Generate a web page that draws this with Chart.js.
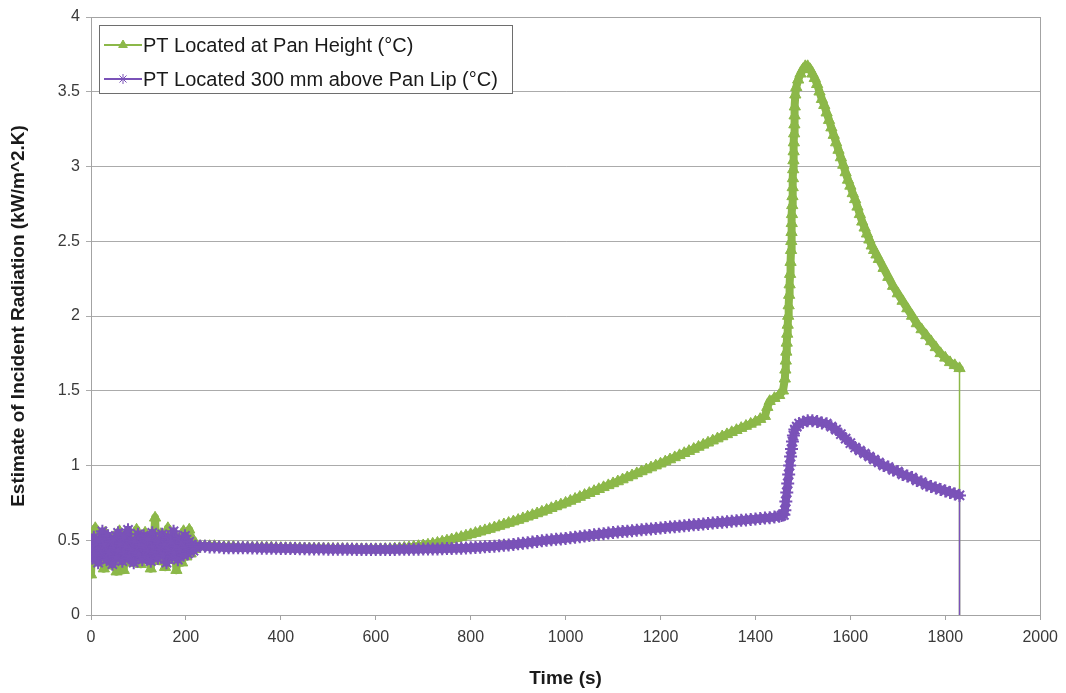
<!DOCTYPE html>
<html>
<head>
<meta charset="utf-8">
<title>Estimate of Incident Radiation</title>
<script src="https://cdn.jsdelivr.net/npm/chart.js@4.4.1/dist/chart.umd.min.js"></script>
<style>
  html, body { margin: 0; padding: 0; background: #fff; }
  #wrap { position: relative; width: 1066px; height: 693px; }
</style>
</head>
<body>
<div id="wrap"><canvas id="radChart"></canvas></div>
<script>
// series labels
const seriesLabels = ['PT Located at Pan Height (\u00B0C)', 'PT Located 300 mm above Pan Lip (\u00B0C)'];

// axis ticks
const xTicks = [0, 200, 400, 600, 800, 1000, 1200, 1400, 1600, 1800, 2000];
const yTicks = [0, 0.5, 1, 1.5, 2, 2.5, 3, 3.5, 4];

// PT at pan height - time (s)
const greenTime = [
  0,3,6,9,12,15,18,21,24,27,30,33,36,39,42,45,48,51,54,57,60,63,66,69,72,75,78,81,84,87,
  90,93,96,99,102,105,108,111,114,117,120,123,126,129,132,135,138,141,144,147,150,153,156,159,162,165,168,171,174,177,
  180,183,186,189,192,195,198,201,204,207,210,213,216,219,
  230,240,250,260,270,280,290,300,310,320,330,340,350,360,370,380,390,400,410,420,
  430,440,450,460,470,480,490,500,510,520,530,540,550,560,570,580,590,600,610,620,
  630,640,650,660,670,680,690,700,710,720,730,740,750,760,770,780,790,800,810,820,
  830,840,850,860,870,880,890,900,910,920,930,940,950,960,970,980,990,1000,1010,1020,
  1030,1040,1050,1060,1070,1080,1090,1100,1110,1120,1130,1140,1150,1160,1170,1180,1190,1200,1210,1220,
  1230,1240,1250,1260,1270,1280,1290,1300,1310,1320,1330,1340,1350,1360,1370,1380,1390,1400,1410,1420,
  1425,1430,1440,1450,1458,1462,1463,1464,1465,1466,1467,1468,1469,1470,1471,1472,1473,1474,1475,1475.5,
  1476,1476.5,1477,1477.5,1478,1478.5,1479,1479.5,1480,1480.5,1481,1481.5,1482,1482.5,1483,1484,1486,1490,1495,1500,
  1505,1510,1515,1520,1525,1530,1535,1540,1545,1550,1555,1560,1565,1570,1575,1580,1585,1590,1595,1600,
  1605,1610,1615,1620,1625,1630,1635,1640,1645,1650,1655,1660,1670,1680,1690,1700,1710,1720,1730,1740,
  1750,1760,1770,1780,1790,1800,1810,1820,1830,1830
];
// PT at pan height - estimate (kW/m^2.K)
const greenVal = [
  0.27,0.52,0.40,0.58,0.44,0.36,0.50,0.41,0.47,0.31,0.55,0.43,0.38,0.49,0.46,0.33,0.52,0.42,0.29,0.48,
  0.56,0.37,0.45,0.30,0.51,0.44,0.39,0.53,0.47,0.35,0.50,0.42,0.57,0.40,0.46,0.34,0.49,0.43,0.55,0.38,
  0.48,0.41,0.31,0.52,0.45,0.65,0.39,0.47,0.36,0.54,0.43,0.50,0.32,0.46,0.58,0.40,0.48,0.37,0.53,0.44,
  0.30,0.51,0.42,0.47,0.35,0.56,0.45,0.39,0.49,0.57,0.41,0.46,0.50,0.44,
  0.46,0.46,0.46,0.46,0.455,0.455,0.455,0.455,0.45,0.45,0.45,0.45,0.45,0.45,0.45,0.45,0.448,0.448,0.447,0.447,
  0.446,0.446,0.445,0.445,0.444,0.444,0.443,0.443,0.442,0.442,0.441,0.441,0.44,0.44,0.44,0.44,0.44,0.44,0.44,0.441,
  0.442,0.444,0.446,0.449,0.452,0.456,0.46,0.465,0.47,0.476,0.482,0.49,0.497,0.505,0.513,0.521,0.53,0.539,0.548,0.557,
  0.566,0.575,0.585,0.595,0.605,0.615,0.625,0.635,0.646,0.657,0.668,0.679,0.69,0.702,0.714,0.726,0.738,0.75,0.763,0.776,
  0.789,0.802,0.815,0.828,0.841,0.854,0.867,0.88,0.893,0.906,0.92,0.933,0.947,0.96,0.973,0.986,0.999,1.012,1.026,1.04,
  1.054,1.068,1.082,1.096,1.11,1.124,1.138,1.152,1.166,1.18,1.194,1.208,1.222,1.236,1.25,1.264,1.278,1.292,1.31,1.33,
  1.39,1.43,1.45,1.47,1.50,1.58,1.64,1.70,1.76,1.82,1.88,1.94,2.00,2.07,2.14,2.21,2.28,2.36,2.44,2.50,
  2.56,2.62,2.68,2.74,2.80,2.86,2.92,2.98,3.04,3.10,3.16,3.22,3.28,3.34,3.40,3.48,3.53,3.58,3.62,3.65,
  3.67,3.67,3.65,3.62,3.59,3.55,3.50,3.45,3.41,3.36,3.31,3.26,3.21,3.16,3.11,3.06,3.01,2.96,2.91,2.87,
  2.82,2.78,2.73,2.68,2.63,2.59,2.55,2.51,2.47,2.44,2.41,2.38,2.32,2.26,2.20,2.15,2.10,2.05,2.00,1.95,
  1.91,1.87,1.83,1.79,1.75,1.72,1.69,1.67,1.65,0
];

// PT 300 mm above pan lip - time (s)
const purpleTime = [
  0,3,6,9,12,15,18,21,24,27,30,33,36,39,42,45,48,51,54,57,60,63,66,69,72,75,78,81,84,87,
  90,93,96,99,102,105,108,111,114,117,120,123,126,129,132,135,138,141,144,147,150,153,156,159,162,165,168,171,174,177,
  180,183,186,189,192,195,198,201,204,207,210,213,216,219,
  230,240,250,260,270,280,290,300,310,320,330,340,350,360,370,380,390,400,410,420,
  430,440,450,460,470,480,490,500,510,520,530,540,550,560,570,580,590,600,610,620,
  630,640,650,660,670,680,690,700,710,720,730,740,750,760,770,780,790,800,810,820,
  830,840,850,860,870,880,890,900,910,920,930,940,950,960,970,980,990,1000,1010,1020,
  1030,1040,1050,1060,1070,1080,1090,1100,1110,1120,1130,1140,1150,1160,1170,1180,1190,1200,1210,1220,
  1230,1240,1250,1260,1270,1280,1290,1300,1310,1320,1330,1340,1350,1360,1370,1380,1390,1400,1410,1420,
  1430,1440,1450,1455,1460,1462,1464,1466,1468,1470,1472,1474,1476,1478,1480,1483,1487,1492,1500,1510,
  1520,1530,1540,1550,1560,1570,1580,1590,1600,1610,1620,1630,1640,1650,1660,1670,1680,1690,1700,1710,
  1720,1730,1740,1750,1760,1770,1780,1790,1800,1810,1820,1830,1830
];
// PT 300 mm above pan lip - estimate (kW/m^2.K)
const purpleVal = [
  0.44,0.38,0.52,0.41,0.48,0.35,0.50,0.43,0.56,0.40,0.47,0.37,0.53,0.42,0.49,0.34,0.51,0.45,0.39,0.55,
  0.43,0.48,0.36,0.52,0.41,0.46,0.57,0.38,0.50,0.44,0.35,0.49,0.42,0.54,0.40,0.47,0.37,0.53,0.45,0.39,
  0.51,0.43,0.36,0.55,0.46,0.41,0.50,0.38,0.48,0.44,0.54,0.40,0.47,0.35,0.52,0.43,0.49,0.39,0.56,0.42,
  0.46,0.37,0.51,0.44,0.48,0.40,0.53,0.45,0.41,0.49,0.44,0.47,0.43,0.46,
  0.46,0.46,0.455,0.455,0.455,0.45,0.45,0.45,0.45,0.45,0.45,0.448,0.448,0.447,0.447,0.446,0.446,0.445,0.445,0.444,
  0.444,0.443,0.443,0.442,0.442,0.441,0.441,0.44,0.44,0.44,0.44,0.439,0.439,0.438,0.438,0.438,0.438,0.438,0.438,0.438,
  0.438,0.438,0.439,0.439,0.44,0.44,0.44,0.441,0.441,0.442,0.442,0.443,0.444,0.445,0.446,0.447,0.448,0.45,0.452,0.454,
  0.456,0.458,0.46,0.463,0.466,0.469,0.472,0.476,0.48,0.484,0.488,0.492,0.496,0.50,0.503,0.506,0.509,0.512,0.516,0.52,
  0.524,0.528,0.532,0.536,0.54,0.544,0.548,0.552,0.555,0.558,0.561,0.564,0.567,0.57,0.573,0.576,0.579,0.582,0.585,0.588,
  0.591,0.594,0.597,0.60,0.603,0.606,0.609,0.612,0.615,0.618,0.621,0.624,0.627,0.63,0.633,0.636,0.639,0.642,0.645,0.648,
  0.651,0.655,0.66,0.665,0.67,0.70,0.76,0.82,0.88,0.94,1.00,1.06,1.11,1.16,1.20,1.24,1.26,1.28,1.29,1.30,
  1.30,1.295,1.285,1.28,1.26,1.24,1.21,1.18,1.15,1.12,1.10,1.08,1.06,1.04,1.02,1.00,0.99,0.97,0.96,0.94,
  0.93,0.92,0.90,0.89,0.87,0.86,0.85,0.84,0.83,0.82,0.81,0.80,0
];

const greenColor = '#8CB849';
const purpleColor = '#7A52B8';
const fontFamily = "'Liberation Sans', Arial, sans-serif";

function toPoints(times, vals) {
  return times.map(function(t, i) { return { x: t, y: vals[i] }; });
}

// hide the marker on the final drop-to-zero point
function markerRadius(r) {
  return function(c) { return (c.raw && c.raw.y === 0) ? 0 : r; };
}

// thick trace, thin line for the final drop
function traceWidth(w) {
  return function(c) { return c.p1.parsed.y === 0 ? 1.5 : w; };
}

// draws the grey frame round the plot area
const framePlugin = {
  id: 'plotFrame',
  beforeDatasetsDraw: function(chart) {
    const a = chart.chartArea;
    const ctx = chart.ctx;
    ctx.save();
    ctx.strokeStyle = '#A3A3A3';
    ctx.lineWidth = 1;
    ctx.strokeRect(Math.round(a.left) + 0.5, Math.round(a.top) + 0.5,
      Math.round(a.right - a.left), Math.round(a.bottom - a.top));
    ctx.restore();
  }
};

// boxed legend inside the plot, top left
const boxLegendPlugin = {
  id: 'boxLegend',
  afterDraw: function(chart) {
    const ctx = chart.ctx;
    const box = { x: 99, y: 25, w: 413, h: 68 };
    ctx.save();
    ctx.fillStyle = '#fff';
    ctx.fillRect(box.x, box.y, box.w, box.h);
    ctx.strokeStyle = '#6E6E6E';
    ctx.lineWidth = 1;
    ctx.strokeRect(box.x + 0.5, box.y + 0.5, box.w, box.h);
    ctx.font = '20px ' + fontFamily;
    ctx.textBaseline = 'middle';
    const entries = [chart.data.datasets[0], chart.data.datasets[1]];
    const rowY = [45, 79];
    entries.forEach(function(ds, i) {
      const y = rowY[i];
      ctx.strokeStyle = ds.borderColor;
      ctx.lineWidth = 2;
      ctx.beginPath();
      ctx.moveTo(104, y);
      ctx.lineTo(142, y);
      ctx.stroke();
      ctx.fillStyle = ds.pointBackgroundColor;
      ctx.lineWidth = 1;
      Chart.helpers.drawPoint(ctx, { pointStyle: ds.pointStyle, radius: 5, rotation: 0, borderWidth: 1 }, 123, y);
      ctx.fillStyle = '#1a1a1a';
      ctx.fillText(ds.label, 143, y + 1);
    });
    ctx.restore();
  }
};

new Chart(document.getElementById('radChart'), {
  type: 'line',
  data: {
    datasets: [
      {
        label: seriesLabels[0],
        data: toPoints(greenTime, greenVal),
        borderColor: greenColor,
        backgroundColor: greenColor,
        pointBackgroundColor: greenColor,
        pointBorderColor: greenColor,
        pointStyle: 'triangle',
        pointRadius: markerRadius(6.5),
        pointBorderWidth: 1,
        borderWidth: 8,
        borderJoinStyle: 'round',
        borderCapStyle: 'round',
        segment: { borderWidth: traceWidth(8) },
        tension: 0,
        fill: false,
        order: 2
      },
      {
        label: seriesLabels[1],
        data: toPoints(purpleTime, purpleVal),
        borderColor: purpleColor,
        backgroundColor: purpleColor,
        pointBackgroundColor: purpleColor,
        pointBorderColor: purpleColor,
        pointStyle: 'star',
        pointRadius: markerRadius(6.5),
        pointBorderWidth: 2,
        borderWidth: 8,
        borderJoinStyle: 'round',
        borderCapStyle: 'round',
        segment: { borderWidth: traceWidth(8) },
        tension: 0,
        fill: false,
        order: 1
      }
    ]
  },
  options: {
    responsive: true,
    maintainAspectRatio: false,
    animation: false,
    events: [],
    layout: { padding: { top: 17, right: 23, left: 0, bottom: 0 } },
    plugins: {
      legend: { display: false },
      tooltip: { enabled: false }
    },
    scales: {
      x: {
        type: 'linear',
        min: xTicks[0],
        max: xTicks[xTicks.length - 1],
        afterFit: function(scale) { scale.height = 78; },
        afterBuildTicks: function(scale) { scale.ticks = xTicks.map(function(v) { return { value: v }; }); },
        grid: { drawOnChartArea: false, drawTicks: true, tickLength: 5, color: '#A3A3A3' },
        border: { display: true, color: '#A3A3A3' },
        ticks: {
          padding: 8,
          color: '#3A3A3A',
          font: { family: fontFamily, size: 16 },
          maxRotation: 0,
          callback: function(v) { return String(v); }
        },
        title: {
          display: true,
          text: 'Time (s)',
          color: '#1a1a1a',
          font: { family: fontFamily, size: 19, weight: 'bold' },
          padding: { top: 0, bottom: 3 }
        }
      },
      y: {
        min: yTicks[0],
        max: yTicks[yTicks.length - 1],
        afterFit: function(scale) { scale.width = 91; },
        afterBuildTicks: function(scale) { scale.ticks = yTicks.map(function(v) { return { value: v }; }); },
        grid: { color: '#ABABAB', tickLength: 5, lineWidth: 1 },
        border: { display: true, color: '#A3A3A3' },
        ticks: {
          padding: 6,
          color: '#3A3A3A',
          font: { family: fontFamily, size: 16 },
          callback: function(v) { return String(v); }
        },
        title: {
          display: true,
          text: 'Estimate of Incident Radiation (kW/m^2.K)',
          color: '#1a1a1a',
          font: { family: fontFamily, size: 19, weight: 'bold' },
          padding: { top: 7, bottom: 0 }
        }
      }
    }
  },
  plugins: [framePlugin, boxLegendPlugin]
});
</script>
</body>
</html>
